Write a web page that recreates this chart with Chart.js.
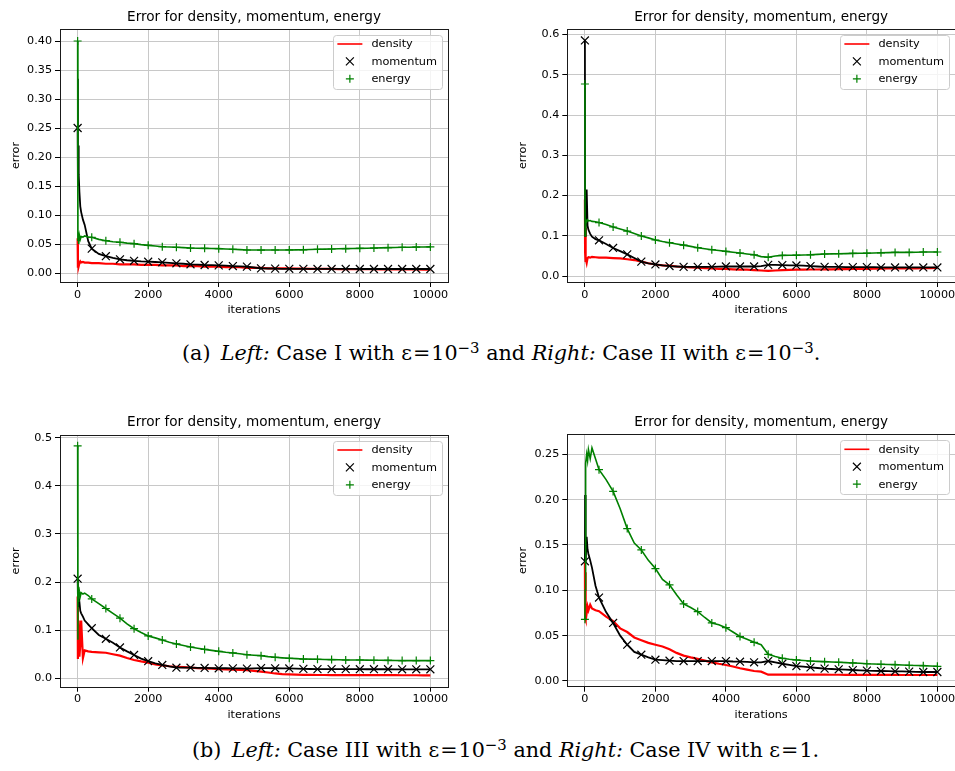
<!DOCTYPE html>
<html>
<head>
<meta charset="utf-8">
<title>Error for density, momentum, energy</title>
<script src="https://cdn.jsdelivr.net/npm/chart.js@4.4.1/dist/chart.umd.min.js"></script>
<style>
    body { margin: 0; background: #fff; }
    #page { position: relative; width: 955px; height: 771px; overflow: hidden; }
    canvas { position: absolute; }
    .caption { position: absolute; font-family: "DejaVu Serif", serif; font-size: 20.7px; line-height: 1; white-space: nowrap; color: #000; }
    .caption sup { font-size: 0.72em; line-height: 0; vertical-align: 0.5em; }
    .caption .eq { margin: 0 1px; }
</style>
</head>
<body>
<div id="page">
    <canvas id="case1" width="460" height="325" style="left:0;top:0"></canvas>
    <canvas id="case2" width="448" height="325" style="left:507px;top:0"></canvas>
    <div class="caption" style="left:182px;top:343px">(a)&ensp;<i>Left:</i> Case I with &epsilon;<span class="eq">=</span>10<sup>&minus;3</sup> and <i>Right:</i> Case II with &epsilon;<span class="eq">=</span>10<sup>&minus;3</sup>.</div>
    <canvas id="case3" width="460" height="325" style="left:0;top:405px"></canvas>
    <canvas id="case4" width="448" height="325" style="left:507px;top:405px"></canvas>
    <div class="caption" style="left:192px;top:740px">(b)&ensp;<i>Left:</i> Case III with &epsilon;<span class="eq">=</span>10<sup>&minus;3</sup> and <i>Right:</i> Case IV with &epsilon;<span class="eq">=</span>1.</div>
</div>
<script>
// iterations (dense near 0 where the spikes are)
const iterations = [0, 5, 10, 20, 30, 50, 75, 100, 150, 200, 300,
    400, 600, 800, 1000, 1200, 1400, 1600, 1800, 2000,
    2200, 2400, 2600, 2800, 3000, 3200, 3400, 3600, 3800, 4000,
    4200, 4400, 4600, 4800, 5000, 5200, 5400, 5600, 5800, 6000,
    6200, 6400, 6600, 6800, 7000, 7200, 7400, 7600, 7800, 8000,
    8200, 8400, 8600, 8800, 9000, 9200, 9400, 9600, 9800, 10000];

const xTicks = [0, 2000, 4000, 6000, 8000, 10000];
const yTicks1 = [0.00, 0.05, 0.10, 0.15, 0.20, 0.25, 0.30, 0.35, 0.40];
const yTicks2 = [0.0, 0.1, 0.2, 0.3, 0.4, 0.5, 0.6];
const yTicks3 = [0.0, 0.1, 0.2, 0.3, 0.4, 0.5];
const yTicks4 = [0.00, 0.05, 0.10, 0.15, 0.20, 0.25];

// Case I, eps = 1e-3
const density1 = [0.060, 0.030, 0.009, 0.020, 0.012, 0.017, 0.020, 0.018, 0.019, 0.018, 0.018,
    0.017, 0.017, 0.016, 0.016, 0.015, 0.015, 0.015, 0.014, 0.014,
    0.014, 0.013, 0.013, 0.013, 0.012, 0.012, 0.012, 0.011, 0.011, 0.011,
    0.010, 0.010, 0.010, 0.009, 0.009, 0.009, 0.008, 0.008, 0.008, 0.008,
    0.0075, 0.0075, 0.0072, 0.0070, 0.0070, 0.0070, 0.0068, 0.0068, 0.0066, 0.0066,
    0.0065, 0.0065, 0.0064, 0.0063, 0.0063, 0.0062, 0.0062, 0.0061, 0.0060, 0.0060];
const momentum1 = [0.250, 0.335, 0.150, 0.220, 0.170, 0.140, 0.115, 0.105, 0.092, 0.083, 0.055,
    0.042, 0.033, 0.029, 0.026, 0.0236, 0.022, 0.021, 0.020, 0.0195,
    0.019, 0.0184, 0.0175, 0.0167, 0.016, 0.015, 0.0145, 0.0138, 0.0135, 0.0132,
    0.0126, 0.012, 0.0115, 0.011, 0.0095, 0.008, 0.0078, 0.0075, 0.0073, 0.0072,
    0.0071, 0.0071, 0.0070, 0.0070, 0.0070, 0.0070, 0.0070, 0.0070, 0.0070, 0.0069,
    0.0069, 0.0069, 0.0069, 0.0069, 0.0069, 0.0069, 0.0069, 0.0069, 0.0069, 0.0069];
const energy1 = [0.400, 0.100, 0.055, 0.070, 0.050, 0.065, 0.058, 0.063, 0.062, 0.064, 0.062,
    0.0615, 0.058, 0.0557, 0.054, 0.0529, 0.0515, 0.0506, 0.049, 0.0477,
    0.0465, 0.0454, 0.0448, 0.0443, 0.0437, 0.043, 0.0428, 0.0425, 0.0422, 0.042,
    0.0415, 0.041, 0.0403, 0.0397, 0.0396, 0.0396, 0.0396, 0.0397, 0.0397, 0.0398,
    0.0399, 0.040, 0.0405, 0.041, 0.0412, 0.0414, 0.0417, 0.042, 0.0422, 0.0425,
    0.0428, 0.043, 0.0433, 0.0437, 0.044, 0.0443, 0.0445, 0.0448, 0.0449, 0.045];

// Case II, eps = 1e-3
const density2 = [0.190, 0.060, 0.120, 0.035, 0.045, 0.033, 0.045, 0.047, 0.046, 0.048, 0.047,
    0.046, 0.046, 0.045, 0.044, 0.042, 0.040, 0.036, 0.032, 0.029,
    0.027, 0.026, 0.024, 0.023, 0.022, 0.021, 0.020, 0.019, 0.018, 0.018,
    0.017, 0.016, 0.016, 0.015, 0.014, 0.013, 0.014, 0.015, 0.0155, 0.016,
    0.016, 0.0165, 0.0165, 0.017, 0.017, 0.0175, 0.0175, 0.018, 0.018, 0.018,
    0.0185, 0.0185, 0.019, 0.019, 0.019, 0.0195, 0.0195, 0.020, 0.020, 0.0205];
const momentum2 = [0.585, 0.100, 0.140, 0.120, 0.130, 0.215, 0.125, 0.115, 0.105, 0.098, 0.092,
    0.089, 0.080, 0.070, 0.062, 0.054, 0.045, 0.036, 0.032, 0.029,
    0.027, 0.025, 0.024, 0.023, 0.023, 0.023, 0.023, 0.023, 0.0235, 0.024,
    0.024, 0.024, 0.024, 0.024, 0.025, 0.028, 0.028, 0.0275, 0.027, 0.0266,
    0.026, 0.025, 0.024, 0.023, 0.023, 0.023, 0.0225, 0.0224, 0.0224, 0.0224,
    0.0222, 0.022, 0.022, 0.0216, 0.0216, 0.0216, 0.0216, 0.0216, 0.0216, 0.0216];
const energy2 = [0.477, 0.100, 0.130, 0.110, 0.140, 0.135, 0.140, 0.137, 0.138, 0.136, 0.135,
    0.133, 0.128, 0.122, 0.117, 0.112, 0.106, 0.0997, 0.095, 0.0897,
    0.086, 0.083, 0.080, 0.077, 0.074, 0.0706, 0.068, 0.0657, 0.0635, 0.0615,
    0.0595, 0.0573, 0.055, 0.053, 0.0485, 0.047, 0.050, 0.0515, 0.0518, 0.052,
    0.0525, 0.053, 0.054, 0.055, 0.0553, 0.0557, 0.056, 0.0565, 0.0568, 0.057,
    0.0575, 0.058, 0.0585, 0.059, 0.059, 0.059, 0.0595, 0.060, 0.060, 0.060];

// Case III, eps = 1e-3
const density3 = [0.170, 0.060, 0.040, 0.080, 0.120, 0.045, 0.070, 0.120, 0.042, 0.058, 0.056,
    0.055, 0.054, 0.053, 0.050, 0.047, 0.042, 0.038, 0.035, 0.0325,
    0.029, 0.027, 0.025, 0.024, 0.023, 0.022, 0.021, 0.0205, 0.020, 0.019,
    0.0185, 0.018, 0.0175, 0.017, 0.0155, 0.014, 0.012, 0.010, 0.0088, 0.008,
    0.0075, 0.007, 0.007, 0.0068, 0.0068, 0.0067, 0.0067, 0.0066, 0.0066, 0.0065,
    0.0065, 0.0065, 0.0064, 0.0064, 0.0064, 0.0063, 0.0063, 0.0063, 0.0062, 0.0062];
const momentum3 = [0.207, 0.170, 0.190, 0.150, 0.170, 0.159, 0.140, 0.135, 0.128, 0.120, 0.112,
    0.104, 0.090, 0.082, 0.074, 0.064, 0.056, 0.0485, 0.041, 0.0355,
    0.031, 0.0277, 0.0245, 0.022, 0.022, 0.022, 0.0215, 0.0215, 0.021, 0.0208,
    0.0208, 0.0206, 0.0204, 0.020, 0.0205, 0.0212, 0.021, 0.0208, 0.0206, 0.0205,
    0.020, 0.0195, 0.0193, 0.019, 0.019, 0.019, 0.019, 0.019, 0.0189, 0.0189,
    0.0188, 0.0188, 0.0188, 0.0188, 0.0187, 0.0187, 0.0187, 0.0187, 0.0187, 0.0187];
const energy3 = [0.483, 0.080, 0.200, 0.160, 0.190, 0.180, 0.170, 0.178, 0.175, 0.177, 0.172,
    0.165, 0.155, 0.145, 0.135, 0.125, 0.113, 0.103, 0.095, 0.088,
    0.084, 0.0796, 0.075, 0.0713, 0.068, 0.065, 0.0625, 0.060, 0.058, 0.056,
    0.054, 0.0526, 0.051, 0.049, 0.048, 0.047, 0.045, 0.0436, 0.0425, 0.0415,
    0.0408, 0.040, 0.0398, 0.0395, 0.039, 0.0388, 0.0385, 0.038, 0.038, 0.038,
    0.0377, 0.0374, 0.0374, 0.0372, 0.037, 0.0367, 0.0367, 0.0367, 0.0367, 0.0367];

// Case IV, eps = 1
const density4 = [0.130, 0.070, 0.120, 0.068, 0.085, 0.075, 0.082, 0.078, 0.084, 0.080, 0.078,
    0.077, 0.071, 0.066, 0.058, 0.054, 0.048, 0.045, 0.042, 0.040,
    0.038, 0.035, 0.031, 0.028, 0.026, 0.0243, 0.0225, 0.0206, 0.019, 0.0176,
    0.016, 0.014, 0.0125, 0.011, 0.0103, 0.007, 0.007, 0.007, 0.007, 0.007,
    0.007, 0.007, 0.007, 0.007, 0.0069, 0.0069, 0.0068, 0.0068, 0.0068, 0.0068,
    0.0067, 0.0067, 0.0067, 0.0067, 0.0066, 0.0066, 0.0066, 0.0066, 0.0066, 0.0066];
const momentum4 = [0.132, 0.205, 0.130, 0.145, 0.130, 0.159, 0.145, 0.140, 0.133, 0.125, 0.105,
    0.092, 0.076, 0.064, 0.050, 0.040, 0.032, 0.029, 0.026, 0.0235,
    0.023, 0.0224, 0.022, 0.022, 0.022, 0.022, 0.022, 0.022, 0.022, 0.022,
    0.0215, 0.0213, 0.021, 0.0206, 0.0206, 0.022, 0.0205, 0.019, 0.0178, 0.0165,
    0.0158, 0.015, 0.0143, 0.0136, 0.0132, 0.0129, 0.0125, 0.0121, 0.0118, 0.0114,
    0.0112, 0.011, 0.0108, 0.0107, 0.0105, 0.0103, 0.0101, 0.0099, 0.0099, 0.0099];
const energy4 = [0.068, 0.100, 0.180, 0.220, 0.240, 0.250, 0.243, 0.255, 0.245, 0.257, 0.245,
    0.233, 0.222, 0.209, 0.190, 0.168, 0.152, 0.1445, 0.133, 0.124,
    0.112, 0.106, 0.095, 0.085, 0.081, 0.0765, 0.070, 0.064, 0.062, 0.0588,
    0.054, 0.049, 0.046, 0.0426, 0.040, 0.0294, 0.027, 0.025, 0.024, 0.0232,
    0.0226, 0.022, 0.0216, 0.0213, 0.021, 0.0206, 0.0202, 0.0199, 0.0195, 0.019,
    0.0187, 0.0184, 0.0182, 0.018, 0.0177, 0.0173, 0.0171, 0.0169, 0.0165, 0.0162];

const seriesNames = ["density", "momentum", "energy"];
const markEvery = 400;

const seriesStyles = [
    { color: "#ff0000", width: 2.2, marker: null, radius: 0, order: 2 },
    { color: "#000000", width: 1.8, marker: "crossRot", radius: 5.6, order: 1 },
    { color: "#008000", width: 1.6, marker: "cross", radius: 4, order: 0 }
];

const panels = [
    { id: "case1", series: [density1, momentum1, energy1], yTicks: yTicks1, yMin: -0.0155, yMax: 0.4207, digits: 2,
      area: { left: 60, right: 448, top: 29, bottom: 282 } },
    { id: "case2", series: [density2, momentum2, energy2], yTicks: yTicks2, yMin: -0.0145, yMax: 0.6135, digits: 1,
      area: { left: 60.3, right: 448, top: 29, bottom: 282 } },
    { id: "case3", series: [density3, momentum3, energy3], yTicks: yTicks3, yMin: -0.0175, yMax: 0.5056, digits: 1,
      area: { left: 60, right: 448, top: 30, bottom: 281.7 } },
    { id: "case4", series: [density4, momentum4, energy4], yTicks: yTicks4, yMin: -0.0063, yMax: 0.272, digits: 2,
      area: { left: 60.3, right: 448, top: 29.3, bottom: 281.7 } }
];

Chart.defaults.font.family = "'DejaVu Sans', sans-serif";
Chart.defaults.color = "#000";

function strokeMarker(ctx, style, x, y, r) {
    ctx.beginPath();
    if (style === "crossRot") {
        const d = r * Math.SQRT1_2;
        ctx.moveTo(x - d, y - d); ctx.lineTo(x + d, y + d);
        ctx.moveTo(x - d, y + d); ctx.lineTo(x + d, y - d);
    } else {
        ctx.moveTo(x - r, y); ctx.lineTo(x + r, y);
        ctx.moveTo(x, y - r); ctx.lineTo(x, y + r);
    }
    ctx.stroke();
}

// axes box on top of the lines, like matplotlib spines
const spines = {
    id: "spines",
    afterDatasetsDraw(chart) {
        const { ctx, chartArea } = chart;
        ctx.save();
        ctx.strokeStyle = "#1a1a1a";
        ctx.lineWidth = 1;
        ctx.strokeRect(Math.round(chartArea.left) + 0.5, Math.round(chartArea.top) + 0.5,
            Math.round(chartArea.right - chartArea.left), Math.round(chartArea.bottom - chartArea.top));
        ctx.restore();
    }
};

// legend in the upper right corner inside the axes
const cornerLegend = {
    id: "cornerLegend",
    afterDraw(chart) {
        const { ctx, chartArea } = chart;
        const sets = chart.data.datasets;
        ctx.save();
        ctx.font = "11.3px 'DejaVu Sans'";
        const textW = Math.max(...sets.map(d => ctx.measureText(d.label).width));
        const rowH = 17.4;
        const w = 38 + textW + 5;
        const h = 9 + rowH * (sets.length - 1) + 10;
        const x = chartArea.right - 6 - w;
        const y = chartArea.top + 6;
        ctx.fillStyle = "rgba(255,255,255,0.8)";
        ctx.strokeStyle = "#cccccc";
        ctx.lineWidth = 1;
        ctx.beginPath();
        ctx.roundRect(Math.round(x) + 0.5, Math.round(y) + 0.5, Math.round(w), Math.round(h), 3);
        ctx.fill();
        ctx.stroke();
        sets.forEach((d, i) => {
            const cy = y + 9 + i * rowH;
            ctx.strokeStyle = d.borderColor;
            if (d.legendMarker) {
                ctx.lineWidth = 1.2;
                strokeMarker(ctx, d.legendMarker, x + 16.5, cy, d.legendRadius);
            } else {
                ctx.lineWidth = 1.6;
                ctx.beginPath();
                ctx.moveTo(x + 4, cy);
                ctx.lineTo(x + 29, cy);
                ctx.stroke();
            }
            ctx.fillStyle = "#000";
            ctx.textBaseline = "middle";
            ctx.fillText(d.label, x + 38, cy + 0.5);
        });
        ctx.restore();
    }
};

function renderPanel(panel) {
    const canvas = document.getElementById(panel.id);
    const area = panel.area;
    const titlePadTop = 9.5;
    const titleLine = 13.6 * 1.2;

    const datasets = panel.series.map((values, k) => {
        const style = seriesStyles[k];
        const markerRadius = ctx => (style.marker && iterations[ctx.dataIndex] % markEvery === 0) ? style.radius : 0;
        return {
            label: seriesNames[k],
            data: values.map((v, i) => ({ x: iterations[i], y: v })),
            borderColor: style.color,
            backgroundColor: style.color,
            borderWidth: style.width,
            tension: 0,
            fill: false,
            order: style.order,
            pointStyle: style.marker || "circle",
            pointRadius: markerRadius,
            pointHoverRadius: markerRadius,
            pointBorderColor: style.color,
            pointBorderWidth: 1.2,
            legendMarker: style.marker,
            legendRadius: style.radius
        };
    });

    return new Chart(canvas, {
        type: "line",
        data: { datasets: datasets },
        plugins: [spines, cornerLegend],
        options: {
            responsive: false,
            animation: false,
            devicePixelRatio: 1,
            events: [],
            layout: { autoPadding: false, padding: { left: 0, top: 0, bottom: 0, right: canvas.width - area.right } },
            plugins: {
                legend: { display: false },
                tooltip: { enabled: false },
                title: {
                    display: true,
                    text: "Error for density, momentum, energy",
                    fullSize: false,
                    font: { size: 13.6, weight: "normal" },
                    color: "#000",
                    padding: { top: titlePadTop, bottom: area.top - titlePadTop - titleLine }
                }
            },
            scales: {
                x: {
                    type: "linear",
                    min: -500,
                    max: 10500,
                    border: { display: false },
                    grid: { color: "#c8c8c8", lineWidth: 1, tickColor: "#000", tickLength: 5, tickWidth: 1 },
                    ticks: { padding: 1, maxRotation: 0, autoSkip: false, font: { size: 11.2 }, color: "#000",
                             callback: v => String(v) },
                    afterBuildTicks(scale) {
                        scale.ticks = xTicks.map(v => ({ value: v }));
                    },
                    title: { display: true, text: "iterations", font: { size: 11.2 }, color: "#000",
                             padding: { top: 0, bottom: 7.8 } },
                    afterFit(scale) {
                        scale.height = canvas.height - area.bottom;
                        scale.paddingLeft = 0;
                        scale.paddingRight = 0;
                    }
                },
                y: {
                    type: "linear",
                    min: panel.yMin,
                    max: panel.yMax,
                    border: { display: false },
                    grid: { color: "#c8c8c8", lineWidth: 1, tickColor: "#000", tickLength: 5, tickWidth: 1 },
                    ticks: { padding: 3, autoSkip: false, font: { size: 11.2 }, color: "#000",
                             callback: v => v.toFixed(panel.digits) },
                    afterBuildTicks(scale) {
                        scale.ticks = panel.yTicks.map(v => ({ value: v }));
                    },
                    title: { display: true, text: "error", font: { size: 11.2 }, color: "#000",
                             padding: { top: 9, bottom: 0 } },
                    afterFit(scale) {
                        scale.width = area.left;
                        scale.paddingTop = 0;
                        scale.paddingBottom = 0;
                    }
                }
            }
        }
    });
}

panels.forEach(renderPanel);
</script>
</body>
</html>
